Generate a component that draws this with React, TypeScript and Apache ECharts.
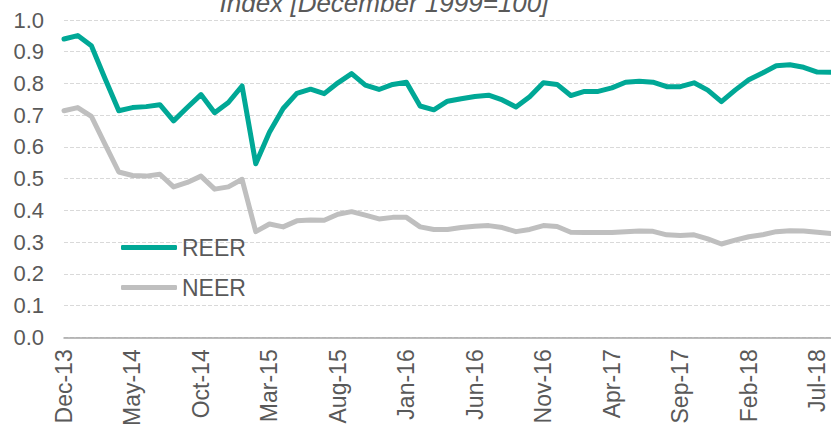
import React, { useEffect, useRef } from "react";
import * as echarts from "echarts";

const categories: string[] = [
  "Dec-13",
  "Jan-14", "Feb-14", "Mar-14", "Apr-14", "May-14", "Jun-14", "Jul-14", "Aug-14", "Sep-14", "Oct-14", "Nov-14", "Dec-14",
  "Jan-15", "Feb-15", "Mar-15", "Apr-15", "May-15", "Jun-15", "Jul-15", "Aug-15", "Sep-15", "Oct-15", "Nov-15", "Dec-15",
  "Jan-16", "Feb-16", "Mar-16", "Apr-16", "May-16", "Jun-16", "Jul-16", "Aug-16", "Sep-16", "Oct-16", "Nov-16", "Dec-16",
  "Jan-17", "Feb-17", "Mar-17", "Apr-17", "May-17", "Jun-17", "Jul-17", "Aug-17", "Sep-17", "Oct-17", "Nov-17", "Dec-17",
  "Jan-18", "Feb-18", "Mar-18", "Apr-18", "May-18", "Jun-18", "Jul-18", "Aug-18",
];

const reer: number[] = [
  0.940, 0.951, 0.919, 0.815, 0.714, 0.724, 0.727, 0.733, 0.682, 0.724,
  0.765, 0.708, 0.740, 0.792, 0.547, 0.646, 0.721, 0.769, 0.782, 0.768,
  0.802, 0.831, 0.795, 0.781, 0.797, 0.804, 0.729, 0.717, 0.744, 0.752,
  0.759, 0.763, 0.748, 0.726, 0.758, 0.802, 0.797, 0.762, 0.775, 0.775,
  0.786, 0.804, 0.807, 0.804, 0.790, 0.790, 0.802, 0.779, 0.743, 0.779,
  0.812, 0.833, 0.856, 0.859, 0.851, 0.836, 0.835,
];

const neer: number[] = [
  0.714, 0.724, 0.696, 0.608, 0.521, 0.510, 0.508, 0.514, 0.474, 0.488,
  0.508, 0.467, 0.474, 0.498, 0.333, 0.357, 0.348, 0.367, 0.370, 0.369,
  0.388, 0.396, 0.385, 0.373, 0.378, 0.378, 0.348, 0.340, 0.340, 0.346,
  0.350, 0.352, 0.346, 0.333, 0.340, 0.352, 0.349, 0.331, 0.330, 0.330,
  0.330, 0.333, 0.335, 0.334, 0.323, 0.321, 0.323, 0.310, 0.294, 0.306,
  0.317, 0.323, 0.333, 0.336, 0.335, 0.331, 0.327,
];

const titleText = "Index [December 1999=100]";
const FONT = "'Liberation Sans', Arial, sans-serif";
const TEXT = "#595959";

export default function App() {
  const ref = useRef<HTMLDivElement>(null);
  useEffect(() => {
    if (!ref.current) return;
    const chart = echarts.init(ref.current, null, { renderer: "svg" });
    chart.setOption({
      animation: false,
      backgroundColor: "#ffffff",
      grid: { left: 64, right: -4, top: 20, bottom: 89, containLabel: false },
      graphic: [
        {
          type: "text",
          x: 384,
          y: 16,
          z: 10,
          style: {
            text: titleText,
            align: "center",
            verticalAlign: "bottom",
            fontSize: 26,
            fontStyle: "italic",
            fontFamily: FONT,
            fill: TEXT,
          },
        },
      ],
      legend: {
        orient: "vertical",
        left: 121,
        top: 236,
        padding: 0,
        itemWidth: 56,
        itemHeight: 5,
        itemGap: 17,
        icon: "roundRect",
        textStyle: { fontSize: 23, color: TEXT, fontFamily: FONT, lineHeight: 23 },
        data: ["REER", "NEER"],
      },
      xAxis: {
        type: "category",
        data: categories,
        boundaryGap: false,
        axisLine: { lineStyle: { color: "#a6a6a6", width: 1.5 } },
        axisTick: { show: false },
        axisLabel: {
          interval: 4,
          rotate: 90,
          margin: 12,
          fontSize: 23,
          color: TEXT,
          fontFamily: FONT,
        },
        splitLine: { show: false },
      },
      yAxis: {
        type: "value",
        min: 0,
        max: 1,
        interval: 0.1,
        axisLine: { show: false },
        axisTick: { show: false },
        axisLabel: {
          margin: 20,
          fontSize: 22,
          color: TEXT,
          fontFamily: FONT,
          formatter: (v: number) => v.toFixed(1),
        },
        splitLine: { lineStyle: { color: "#d9d9d9", type: "dashed", width: 1 } },
      },
      series: [
        {
          name: "REER",
          type: "line",
          data: reer,
          symbol: "none",
          lineStyle: { color: "#00a896", width: 5, cap: "round", join: "round" },
          itemStyle: { color: "#00a896" },
        },
        {
          name: "NEER",
          type: "line",
          data: neer,
          symbol: "none",
          lineStyle: { color: "#bfbfbf", width: 5, cap: "round", join: "round" },
          itemStyle: { color: "#bfbfbf" },
        },
      ],
    });
    return () => chart.dispose();
  }, []);
  return <div ref={ref} style={{ width: 831, height: 429, position: "absolute", left: 0, top: 0 }} />;
}
